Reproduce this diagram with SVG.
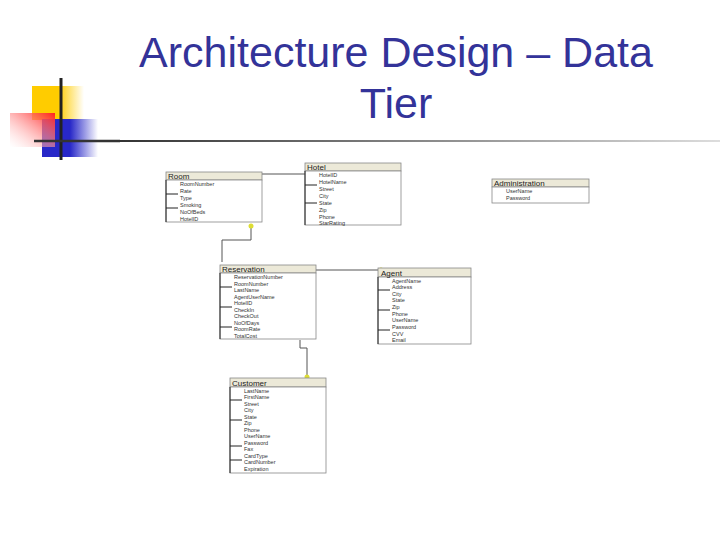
<svg xmlns="http://www.w3.org/2000/svg" width="720" height="540" viewBox="0 0 720 540">
<style>
.t{font-family:"Liberation Sans",Arial,sans-serif;fill:#333399}
.h{fill:#ece9d8;stroke:#888;stroke-width:0.8}
.b{fill:#fff;stroke:#888;stroke-width:0.8}
.hd{font-family:"Liberation Sans",Arial,sans-serif;font-size:8px;fill:#222}
.f{font-family:"Liberation Sans",Arial,sans-serif;font-size:5.5px;fill:#333}
.k{stroke:#222;stroke-width:1}
.c{stroke:#555;stroke-width:1;fill:none}
</style>
<defs>
<linearGradient id="rg" x1="1" y1="0" x2="0" y2="1"><stop offset="0" stop-color="#ff2020"/><stop offset="1" stop-color="#fff" stop-opacity="0.3"/></linearGradient>
<linearGradient id="yg" x1="0" x2="1"><stop offset="0.5" stop-color="#ffcc00"/><stop offset="1" stop-color="#fff"/></linearGradient>
<linearGradient id="bg" x1="0" x2="1"><stop offset="0.5" stop-color="#2828c8"/><stop offset="1" stop-color="#fff"/></linearGradient>
<linearGradient id="lg" x1="0" x2="1"><stop offset="0" stop-color="#333"/><stop offset="1" stop-color="#ddd"/></linearGradient>
</defs>
<rect x="32" y="86" width="52" height="34" fill="url(#yg)"/>
<rect x="42" y="119" width="56" height="38" fill="url(#bg)"/>
<rect x="10" y="113" width="45" height="34" fill="url(#rg)"/>
<line x1="61" y1="78" x2="61" y2="160" stroke="#222" stroke-width="3"/>
<line x1="34" y1="141" x2="120" y2="141" stroke="#333" stroke-width="2.5"/>
<rect x="120" y="140" width="600" height="2" fill="url(#lg)"/>
<text class="t" x="396" y="67" font-size="43" text-anchor="middle">Architecture Design – Data</text>
<text class="t" x="396" y="118" font-size="43" text-anchor="middle">Tier</text>
<g id="connectors">
<polyline class="c" points="262,174 315,174"/>
<polyline class="c" points="251,225 251,240 222,240 222,262"/>
<polyline class="c" points="316,270 380,270"/>
<polyline class="c" points="300,340 300,348 307,348 307,378"/>
<circle cx="313" cy="174" r="2.5" fill="#dddd33"/>
<circle cx="251" cy="226" r="2.5" fill="#dddd33"/>
<circle cx="381" cy="270" r="2.5" fill="#dddd33"/>
<circle cx="307" cy="377" r="2.5" fill="#dddd33"/>
</g>
<g id="room">
<rect class="h" x="166" y="172" width="96" height="8"/><rect class="b" x="166" y="180" width="96" height="42"/>
<line class="k" x1="166" y1="180" x2="166" y2="222"/><line class="k" x1="166" y1="194" x2="178" y2="194"/><line class="k" x1="166" y1="208" x2="178" y2="208"/>
<text class="hd" x="168" y="179">Room</text>
<g class="f"><text x="180" y="186">RoomNumber</text><text x="180" y="193">Rate</text><text x="180" y="200">Type</text><text x="180" y="207">Smoking</text><text x="180" y="214">NoOfBeds</text><text x="180" y="221">HotelID</text></g>
</g>
<g id="hotel">
<rect class="h" x="305" y="163" width="96" height="8"/><rect class="b" x="305" y="171" width="96" height="54"/>
<line class="k" x1="305" y1="171" x2="305" y2="225"/><line class="k" x1="305" y1="185" x2="317" y2="185"/><line class="k" x1="305" y1="203" x2="317" y2="203"/>
<text class="hd" x="307" y="170">Hotel</text>
<g class="f"><text x="319" y="177">HotelID</text><text x="319" y="184">HotelName</text><text x="319" y="191">Street</text><text x="319" y="198">City</text><text x="319" y="205">State</text><text x="319" y="212">Zip</text><text x="319" y="219">Phone</text><text x="319" y="225">StarRating</text></g>
</g>
<g id="administration">
<rect class="h" x="492" y="179" width="97" height="8"/><rect class="b" x="492" y="187" width="97" height="16"/>
<text class="hd" x="494" y="186">Administration</text>
<g class="f"><text x="506" y="193">UserName</text><text x="506" y="200">Password</text></g>
</g>
<g id="reservation">
<rect class="h" x="220" y="265" width="96" height="8"/><rect class="b" x="220" y="273" width="96" height="66"/>
<line class="k" x1="220" y1="273" x2="220" y2="339"/><line class="k" x1="220" y1="287" x2="232" y2="287"/><line class="k" x1="220" y1="307" x2="232" y2="307"/><line class="k" x1="220" y1="327" x2="232" y2="327"/>
<text class="hd" x="222" y="272">Reservation</text>
<g class="f"><text x="234" y="279">ReservationNumber</text><text x="234" y="286">RoomNumber</text><text x="234" y="292">LastName</text><text x="234" y="299">AgentUserName</text><text x="234" y="305">HotelID</text><text x="234" y="312">CheckIn</text><text x="234" y="318">CheckOut</text><text x="234" y="325">NoOfDays</text><text x="234" y="331">RoomRate</text><text x="234" y="338">TotalCost</text></g>
</g>
<g id="agent">
<rect class="h" x="378" y="268" width="93" height="9"/><rect class="b" x="378" y="277" width="93" height="67"/>
<line class="k" x1="378" y1="277" x2="378" y2="344"/><line class="k" x1="378" y1="290" x2="390" y2="290"/><line class="k" x1="378" y1="310" x2="390" y2="310"/><line class="k" x1="378" y1="330" x2="390" y2="330"/>
<text class="hd" x="381" y="276">Agent</text>
<g class="f"><text x="392" y="283">AgentName</text><text x="392" y="289">Address</text><text x="392" y="296">City</text><text x="392" y="302">State</text><text x="392" y="309">Zip</text><text x="392" y="316">Phone</text><text x="392" y="322">UserName</text><text x="392" y="329">Password</text><text x="392" y="336">CVV</text><text x="392" y="342">Email</text></g>
</g>
<g id="customer">
<rect class="h" x="230" y="378" width="96" height="9"/><rect class="b" x="230" y="387" width="96" height="86"/>
<line class="k" x1="230" y1="387" x2="230" y2="473"/><line class="k" x1="230" y1="400" x2="242" y2="400"/><line class="k" x1="230" y1="420" x2="242" y2="420"/><line class="k" x1="230" y1="446" x2="242" y2="446"/><line class="k" x1="230" y1="460" x2="242" y2="460"/>
<text class="hd" x="232" y="386">Customer</text>
<g class="f"><text x="244" y="393">LastName</text><text x="244" y="399">FirstName</text><text x="244" y="406">Street</text><text x="244" y="412">City</text><text x="244" y="419">State</text><text x="244" y="425">Zip</text><text x="244" y="432">Phone</text><text x="244" y="438">UserName</text><text x="244" y="445">Password</text><text x="244" y="451">Fax</text><text x="244" y="458">CardType</text><text x="244" y="464">CardNumber</text><text x="244" y="471">Expiration</text></g>
</g>
</svg>
